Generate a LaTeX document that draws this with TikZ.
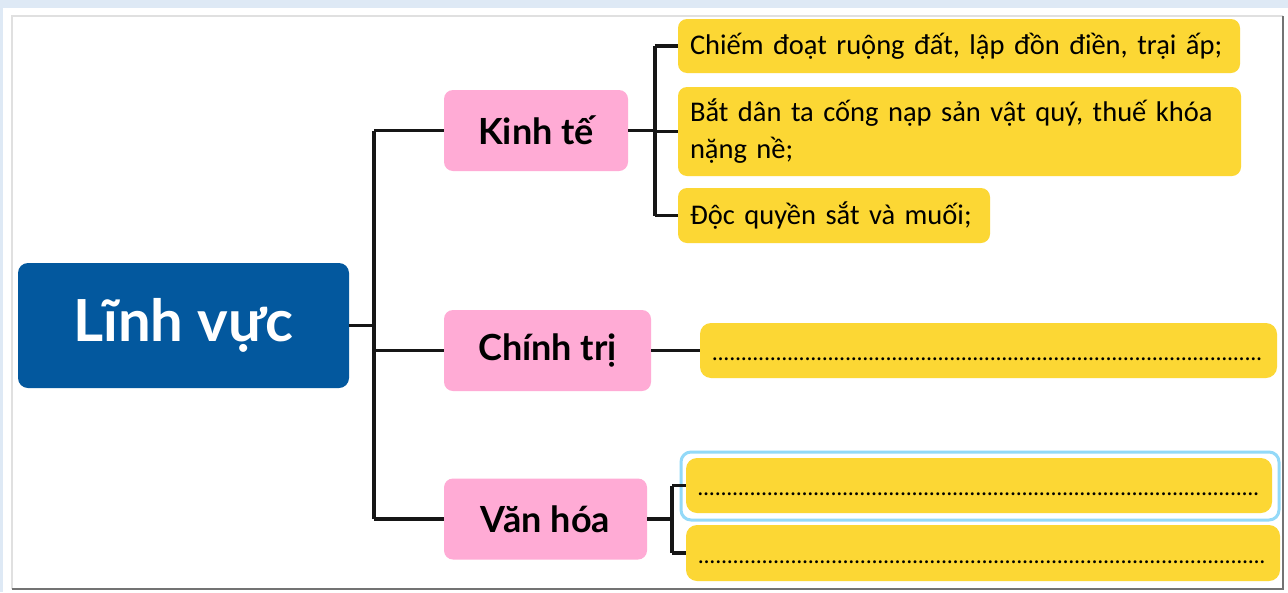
\documentclass[tikz,border=0pt]{standalone}
\usepackage{fontspec}
\setmainfont{Carlito}
\newfontfamily\headfont{Lato}

\definecolor{pageblue}{HTML}{DEE9F5}
\definecolor{fieldblue}{HTML}{03589E}
\definecolor{topicpink}{HTML}{FFABD5}
\definecolor{itemyellow}{HTML}{FCD734}
\definecolor{focusblue}{HTML}{93D9F8}
\definecolor{linkblack}{HTML}{161616}

\newcommand{\dotrow}[1]{\smash{\raisebox{-10pt}{\hbox to #1{\leaders\hbox to 5.8pt{\hss.\hss}\hfill}}}}

\begin{document}
\begin{tikzpicture}[x=1pt, y=-1pt]
\tikzset{ field/.style={fill=fieldblue, rounded corners=10pt, text=white, font=\headfont\bfseries\fontsize{58}{64}\selectfont, minimum width=331pt, minimum height=125pt, inner sep=0pt},
  topic/.style={fill=topicpink, rounded corners=9pt, font=\headfont\bfseries\fontsize{36}{40}\selectfont, minimum height=81pt, inner sep=0pt},
  item/.style={fill=itemyellow, rounded corners=9pt, font=\fontsize{28.5}{37}\selectfont, align=left, inner xsep=12pt, inner ysep=0pt},
  blank/.style={fill=itemyellow, rounded corners=11pt, font=\fontsize{24}{24}\selectfont, inner sep=0pt, minimum height=55pt},
  link/.style={linkblack, line width=3.5pt},
}

%\draw [lightgray, dashed](0,0) grid (1288,592);
\useasboundingbox (0,0) rectangle (1288,592);
\fill [pageblue] (0,0) rectangle (1288,592);
\fill [white] (3,8) rectangle (1288,592);
\draw [black!12, line width=2pt] (12,589) -- (12,16) -- (1283,16);
\draw [black!55, line width=2pt] (1283,16) -- (1283,589) -- (12,589);

\node [field] (field) at (183.5,325.5) {Lĩnh vực};

\node [topic, minimum width=184pt] (econ) at (536,130.5) {Kinh tế};
\node [topic, minimum width=207pt] (poli) at (547.5,350.5) {Chính trị};
\node [topic, minimum width=203pt] (cult) at (545.5,519) {Văn hóa};

\node [item, text width=538pt, minimum height=54pt] (land) at (959,46) {\mbox{Chiếm đoạt ruộng đất, lập đồn điền, trại ấp;}};
\node [item, text width=539pt, minimum height=89pt] (tax) at (959.5,131.5) {\mbox{Bắt dân ta cống nạp sản vật quý, thuế khóa}\\nặng nề;};
\node [item, text width=288pt, minimum height=55pt] (salt) at (834,215.5) {\mbox{Độc quyền sắt và muối;}};

\node [blank, minimum width=577pt] (poliA) at (988.5,350.5) {\dotrow{553pt}};
\draw [focusblue, line width=3pt, rounded corners=10pt] (681,452) rectangle (1279,520);
\node [blank, minimum width=586pt] (cultA) at (979,485.5) {\dotrow{563pt}};
\node [blank, minimum width=594pt, minimum height=56pt] (cultB) at (983,553) {\dotrow{570pt}};

\draw [link] (field.east) -- ++(25,0) coordinate (hub);
\draw [link] (hub |- econ.west) -- (hub |- cult.west);
\draw [link] (hub |- econ.west) -- (econ.west);
\draw [link] (hub |- poli.west) -- (poli.west);
\draw [link] (hub |- cult.west) -- (cult.west);

\draw [link] (econ.east) -- ++(27,0) coordinate (econhub);
\draw [link] (econhub |- land.west) -- (econhub |- salt.west);
\draw [link] (econhub |- land.west) -- (land.west);
\draw [link] (econhub |- tax.west) -- (tax.west);
\draw [link] (econhub |- salt.west) -- (salt.west);

\draw [link] (poli.east) -- (poliA.west);

\draw [link] (cult.east) -- ++(25,0) coordinate (culthub);
\draw [link] (culthub |- cultA.west) -- (culthub |- cultB.west);
\draw [link] (culthub |- cultA.west) -- (cultA.west);
\draw [link] (culthub |- cultB.west) -- (cultB.west);

\end{tikzpicture}
\end{document}
